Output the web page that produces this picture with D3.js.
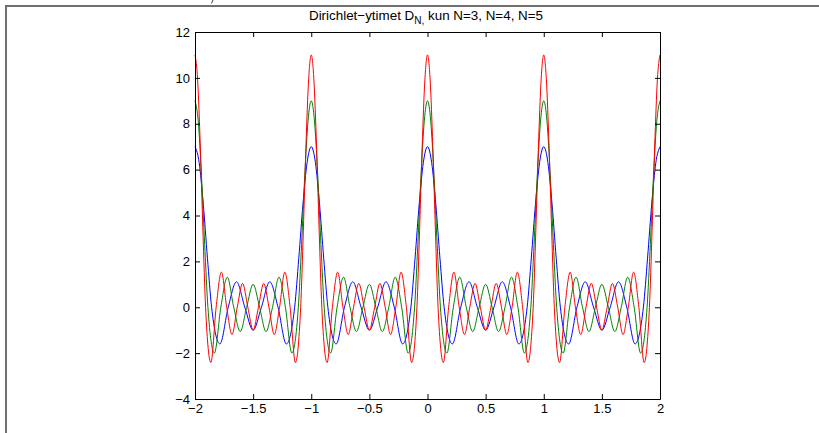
<!DOCTYPE html>
<html>
<head>
<meta charset="utf-8">
<script src="https://cdn.jsdelivr.net/npm/d3@7"></script>
<style>
  html, body { margin: 0; padding: 0; background: #fff; }
  svg { display: block; font-family: "Liberation Sans", Arial, sans-serif; }
</style>
</head>
<body>
<script>
// one period (x from 0 to 1) of each kernel:
// peaks, zero crossings and side-lobe extrema
const xN3 = [0, 0.0357, 0.0714, 0.1071, 0.1429, 0.2143, 0.2857, 0.3571, 0.4286, 0.5,
  0.5714, 0.6429, 0.7143, 0.7857, 0.8571, 0.8929, 0.9286, 0.9643, 1];
const yN3 = [7, 6.31, 4.49, 2.14, 0, -1.60, 0, 1.11, 0, -1,
  0, 1.11, 0, -1.60, 0, 2.14, 4.49, 6.31, 7];

const xN4 = [0, 0.0278, 0.0556, 0.0833, 0.1111, 0.1667, 0.2222, 0.2778, 0.3333, 0.3889, 0.4444, 0.5,
  0.5556, 0.6111, 0.6667, 0.7222, 0.7778, 0.8333, 0.8889, 0.9167, 0.9444, 0.9722, 1];
const yN4 = [9, 8.11, 5.76, 2.73, 0, -2.0, 0, 1.31, 0, -1.06, 0, 1.0,
  0, -1.06, 0, 1.31, 0, -2.0, 0, 2.73, 5.76, 8.11, 9];

const xN5 = [0, 0.0227, 0.0455, 0.0682, 0.0909, 0.1364, 0.1818, 0.2273, 0.2727, 0.3182, 0.3636, 0.4091, 0.4545, 0.5,
  0.5455, 0.5909, 0.6364, 0.6818, 0.7273, 0.7727, 0.8182, 0.8636, 0.9091, 0.9318, 0.9545, 0.9773, 1];
const yN5 = [11, 9.91, 7.03, 3.33, 0, -2.41, 0, 1.53, 0, -1.19, 0, 1.04, 0, -1,
  0, 1.04, 0, -1.19, 0, 1.53, 0, -2.41, 0, 3.33, 7.03, 9.91, 11];

// the picture repeats the same period four times
const periodStarts = [-2, -1, 0, 1];

const seriesNames = ['N=3', 'N=4', 'N=5'];
const seriesColors = ['#0000ff', '#008000', '#ff0000'];

const xTicks = [-2, -1.5, -1, -0.5, 0, 0.5, 1, 1.5, 2];
const yTicks = [-4, -2, 0, 2, 4, 6, 8, 10, 12];

const width = 819, height = 433;
const plotLeft = 195, plotRight = 660, plotTop = 32, plotBottom = 399;

const svg = d3.select('body').append('svg')
  .attr('width', width)
  .attr('height', height);

// figure frame (top and left edges visible)
svg.append('path')
  .attr('d', 'M6,' + height + 'V6H' + width)
  .attr('fill', 'none')
  .attr('stroke', '#707070')
  .attr('stroke-width', 2);
svg.append('path')
  .attr('d', 'M213,0L211.5,3.5')
  .attr('stroke', '#444')
  .attr('stroke-width', 1);

const x = d3.scaleLinear().domain([-2, 2]).range([plotLeft, plotRight]);
const y = d3.scaleLinear().domain([-4, 12]).range([plotBottom, plotTop]);

function tile(xs, ys) {
  const pts = [];
  periodStarts.forEach((s, j) => {
    xs.forEach((v, i) => {
      if (i === 0 && j > 0) return;
      pts.push([s + v, ys[i]]);
    });
  });
  return pts;
}

const series = [tile(xN3, yN3), tile(xN4, yN4), tile(xN5, yN5)];

const line = d3.line()
  .x(d => x(d[0]))
  .y(d => y(d[1]))
  .curve(d3.curveMonotoneX);

svg.append('g')
  .selectAll('path')
  .data(series)
  .enter()
  .append('path')
  .attr('d', line)
  .attr('fill', 'none')
  .attr('stroke', (d, i) => seriesColors[i])
  .attr('stroke-width', 1);

const fmt = v => String(v).replace('-', '\u2212');

// axes, MATLAB style: ticks inward on all four sides
svg.append('g')
  .attr('transform', 'translate(0,' + plotBottom + ')')
  .call(d3.axisBottom(x).tickValues(xTicks).tickSizeInner(-5).tickSizeOuter(0).tickPadding(5).tickFormat(fmt));
svg.append('g')
  .attr('transform', 'translate(0,' + plotTop + ')')
  .call(d3.axisTop(x).tickValues(xTicks).tickSizeInner(-5).tickSizeOuter(0).tickFormat(''));
svg.append('g')
  .attr('transform', 'translate(' + plotLeft + ',0)')
  .call(d3.axisLeft(y).tickValues(yTicks).tickSizeInner(-5).tickSizeOuter(0).tickPadding(5).tickFormat(fmt));
svg.append('g')
  .attr('transform', 'translate(' + plotRight + ',0)')
  .call(d3.axisRight(y).tickValues(yTicks).tickSizeInner(-5).tickSizeOuter(0).tickFormat(''));

svg.selectAll('.domain').attr('stroke', '#000');
svg.selectAll('.tick line').attr('stroke', '#000');
svg.selectAll('.tick text')
  .attr('font-size', 13)
  .attr('font-family', '"Liberation Sans", Arial, sans-serif')
  .attr('fill', '#000');

// title
const title = svg.append('text')
  .attr('x', 426)
  .attr('y', 20)
  .attr('text-anchor', 'middle')
  .attr('font-size', 13.4)
  .attr('fill', '#000');
title.append('tspan').text('Dirichlet\u2212ytimet D');
title.append('tspan').attr('font-size', 10).attr('dy', 4).text('N');
title.append('tspan').attr('font-size', 10).text(',');
title.append('tspan').attr('dy', -4).text(' kun ' + seriesNames.join(', '));
</script>
</body>
</html>
